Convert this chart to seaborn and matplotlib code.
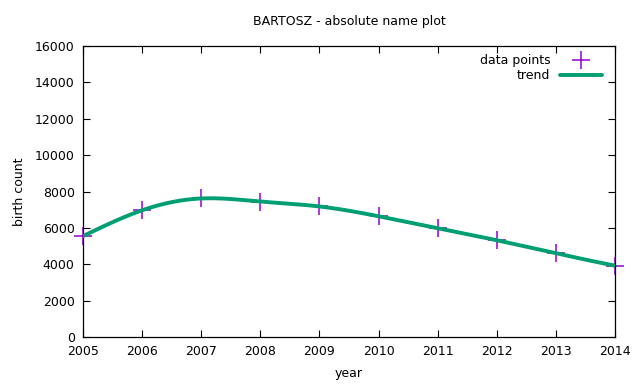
import numpy as np
import pandas as pd
import matplotlib
matplotlib.use("Agg")
import matplotlib.pyplot as plt
import seaborn as sns

years = [2005, 2006, 2007, 2008, 2009, 2010, 2011, 2012, 2013, 2014]
births = [5550, 6970, 7620, 7450, 7180, 6640, 5980, 5320, 4600, 3920]


def natural_spline(x, y, xs):
    # plain natural cubic spline, like gnuplot's "smooth csplines"
    x = np.asarray(x, float)
    y = np.asarray(y, float)
    n = len(x)
    h = np.diff(x)
    A = np.zeros((n, n))
    b = np.zeros(n)
    A[0, 0] = A[-1, -1] = 1
    for i in range(1, n - 1):
        A[i, i - 1] = h[i - 1]
        A[i, i] = 2 * (h[i - 1] + h[i])
        A[i, i + 1] = h[i]
        b[i] = 6 * ((y[i + 1] - y[i]) / h[i] - (y[i] - y[i - 1]) / h[i - 1])
    m = np.linalg.solve(A, b)
    idx = np.clip(np.searchsorted(x, xs) - 1, 0, n - 2)
    x0, x1 = x[idx], x[idx + 1]
    hh = x1 - x0
    t0, t1 = x1 - xs, xs - x0
    return (m[idx] * t0**3 + m[idx + 1] * t1**3) / (6 * hh) + \
        (y[idx] / hh - m[idx] * hh / 6) * t0 + (y[idx + 1] / hh - m[idx + 1] * hh / 6) * t1


df = pd.DataFrame({"year": years, "births": births})
xs = np.linspace(years[0], years[-1], 400)
trend = pd.DataFrame({"year": xs, "births": natural_spline(years, births, xs)})

sns.set_style("ticks")
plt.rcParams["font.family"] = ["DejaVu Sans"]
plt.rcParams["font.size"] = 9
plt.rcParams["text.color"] = "black"
plt.rcParams["axes.labelcolor"] = "black"

fig, ax = plt.subplots(figsize=(6.4, 3.84), dpi=100)
fig.subplots_adjust(left=0.1297, right=0.961, top=0.880, bottom=0.1224)

sns.scatterplot(data=df, x="year", y="births", marker="+", s=180, color="#9400d3",
                linewidth=1.1, ax=ax, label="data points", zorder=2, clip_on=False)
sns.lineplot(data=trend, x="year", y="births", color="#009e73", linewidth=2.8,
             ax=ax, label="trend", zorder=3)

ax.set_xlim(2005, 2014)
ax.set_ylim(0, 16000)
ax.set_xticks(years)
ax.set_yticks(np.arange(0, 16001, 2000))
ax.tick_params(direction="in", top=True, right=True, length=5, width=0.8, labelsize=9,
               colors="black", pad=6)
for s in ax.spines.values():
    s.set_visible(True)
    s.set_color("black")
    s.set_linewidth(0.9)

ax.set_title("BARTOSZ - absolute name plot", fontsize=9, pad=15, color="black")
ax.set_xlabel("year", fontsize=9, labelpad=6)
ax.set_ylabel("birth count", fontsize=9, labelpad=6)

ax.legend(loc="upper right", bbox_to_anchor=(0.989, 1.0), frameon=False, markerfirst=False,
          fontsize=9, handlelength=3.3, borderaxespad=0.2, labelspacing=0.2, handletextpad=0.8)

fig.savefig("out.png", dpi=100)
